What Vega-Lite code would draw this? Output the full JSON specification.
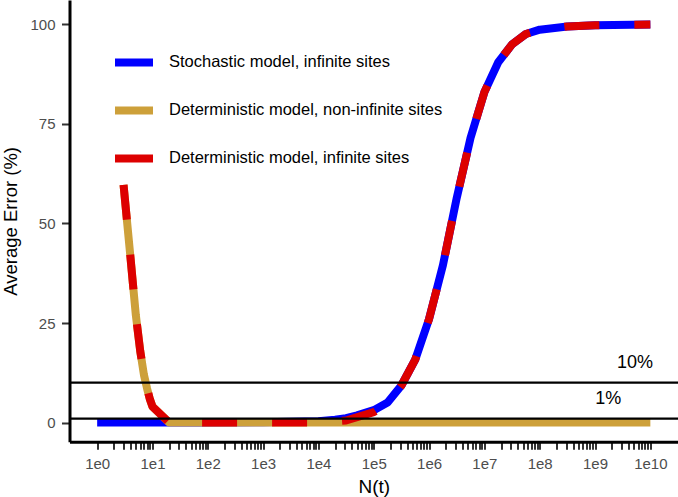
{
  "$schema": "https://vega.github.io/schema/vega-lite/v6.json",
  "width": 608.5,
  "height": 441.7,
  "autosize": {"type": "none"},
  "padding": {"left": 69.5, "top": 0, "right": 0, "bottom": 55.3},
  "background": "white",
  "config": {
    "view": {"stroke": null},
    "font": "Liberation Sans",
    "axis": {"grid": false}
  },
  "layer": [
    {
      "data": {
        "values": [
          {"series": "Stochastic model, infinite sites", "N": 1, "err": 0},
          {"series": "Stochastic model, infinite sites", "N": 2, "err": 0},
          {"series": "Stochastic model, infinite sites", "N": 5, "err": 0},
          {"series": "Stochastic model, infinite sites", "N": 10, "err": 0},
          {"series": "Stochastic model, infinite sites", "N": 20, "err": 0},
          {"series": "Stochastic model, infinite sites", "N": 100, "err": 0},
          {"series": "Stochastic model, infinite sites", "N": 1000, "err": 0.05},
          {"series": "Stochastic model, infinite sites", "N": 10000, "err": 0.3},
          {"series": "Stochastic model, infinite sites", "N": 20000, "err": 0.7},
          {"series": "Stochastic model, infinite sites", "N": 31600, "err": 1.1},
          {"series": "Stochastic model, infinite sites", "N": 50000, "err": 1.8},
          {"series": "Stochastic model, infinite sites", "N": 100000, "err": 3.1},
          {"series": "Stochastic model, infinite sites", "N": 178000, "err": 5.0},
          {"series": "Stochastic model, infinite sites", "N": 316000, "err": 9.3},
          {"series": "Stochastic model, infinite sites", "N": 562000, "err": 15.8},
          {"series": "Stochastic model, infinite sites", "N": 1000000, "err": 26},
          {"series": "Stochastic model, infinite sites", "N": 1780000, "err": 39.5},
          {"series": "Stochastic model, infinite sites", "N": 3160000, "err": 56.4},
          {"series": "Stochastic model, infinite sites", "N": 5620000, "err": 71.5},
          {"series": "Stochastic model, infinite sites", "N": 10000000, "err": 83},
          {"series": "Stochastic model, infinite sites", "N": 17800000, "err": 90.5},
          {"series": "Stochastic model, infinite sites", "N": 31600000, "err": 95},
          {"series": "Stochastic model, infinite sites", "N": 56200000, "err": 97.6},
          {"series": "Stochastic model, infinite sites", "N": 100000000, "err": 98.7},
          {"series": "Stochastic model, infinite sites", "N": 316000000, "err": 99.5},
          {"series": "Stochastic model, infinite sites", "N": 1000000000, "err": 99.8},
          {"series": "Stochastic model, infinite sites", "N": 10000000000, "err": 100},

          {"series": "Deterministic model, non-infinite sites", "N": 3, "err": 59.7},
          {"series": "Deterministic model, non-infinite sites", "N": 4, "err": 41.5},
          {"series": "Deterministic model, non-infinite sites", "N": 5, "err": 27},
          {"series": "Deterministic model, non-infinite sites", "N": 6, "err": 18},
          {"series": "Deterministic model, non-infinite sites", "N": 7, "err": 12},
          {"series": "Deterministic model, non-infinite sites", "N": 8, "err": 8.5},
          {"series": "Deterministic model, non-infinite sites", "N": 9, "err": 5.8},
          {"series": "Deterministic model, non-infinite sites", "N": 10, "err": 4},
          {"series": "Deterministic model, non-infinite sites", "N": 20, "err": 0},
          {"series": "Deterministic model, non-infinite sites", "N": 100, "err": 0},
          {"series": "Deterministic model, non-infinite sites", "N": 1000, "err": 0},
          {"series": "Deterministic model, non-infinite sites", "N": 10000, "err": 0},
          {"series": "Deterministic model, non-infinite sites", "N": 100000, "err": 0},
          {"series": "Deterministic model, non-infinite sites", "N": 1000000, "err": 0},
          {"series": "Deterministic model, non-infinite sites", "N": 10000000, "err": 0},
          {"series": "Deterministic model, non-infinite sites", "N": 100000000, "err": 0},
          {"series": "Deterministic model, non-infinite sites", "N": 1000000000, "err": 0},
          {"series": "Deterministic model, non-infinite sites", "N": 10000000000, "err": 0},

          {"series": "Deterministic model, infinite sites", "N": 3, "err": 59.7},
          {"series": "Deterministic model, infinite sites", "N": 4, "err": 41.5},
          {"series": "Deterministic model, infinite sites", "N": 5, "err": 27},
          {"series": "Deterministic model, infinite sites", "N": 6, "err": 18},
          {"series": "Deterministic model, infinite sites", "N": 7, "err": 12},
          {"series": "Deterministic model, infinite sites", "N": 8, "err": 8.5},
          {"series": "Deterministic model, infinite sites", "N": 9, "err": 5.8},
          {"series": "Deterministic model, infinite sites", "N": 10, "err": 4},
          {"series": "Deterministic model, infinite sites", "N": 20, "err": 0},
          {"series": "Deterministic model, infinite sites", "N": 100, "err": 0},
          {"series": "Deterministic model, infinite sites", "N": 1000, "err": 0},
          {"series": "Deterministic model, infinite sites", "N": 10000, "err": 0},
          {"series": "Deterministic model, infinite sites", "N": 31600, "err": 0.5},
          {"series": "Deterministic model, infinite sites", "N": 100000, "err": 2.6},
          {"series": "Deterministic model, infinite sites", "N": 178000, "err": 4.8},
          {"series": "Deterministic model, infinite sites", "N": 316000, "err": 9.3},
          {"series": "Deterministic model, infinite sites", "N": 562000, "err": 15.8},
          {"series": "Deterministic model, infinite sites", "N": 1000000, "err": 26},
          {"series": "Deterministic model, infinite sites", "N": 1780000, "err": 39.5},
          {"series": "Deterministic model, infinite sites", "N": 3160000, "err": 56.4},
          {"series": "Deterministic model, infinite sites", "N": 5620000, "err": 71.5},
          {"series": "Deterministic model, infinite sites", "N": 10000000, "err": 83},
          {"series": "Deterministic model, infinite sites", "N": 17800000, "err": 90.5},
          {"series": "Deterministic model, infinite sites", "N": 31600000, "err": 95},
          {"series": "Deterministic model, infinite sites", "N": 56200000, "err": 97.6},
          {"series": "Deterministic model, infinite sites", "N": 100000000, "err": 98.7},
          {"series": "Deterministic model, infinite sites", "N": 316000000, "err": 99.5},
          {"series": "Deterministic model, infinite sites", "N": 1000000000, "err": 99.8},
          {"series": "Deterministic model, infinite sites", "N": 10000000000, "err": 100}
        ]
      },
      "encoding": {
        "x": {
          "field": "N", "type": "quantitative",
          "scale": {"type": "log", "domain": [0.316228, 31622776601], "nice": false},
          "axis": {
            "title": "N(t)",
            "titleFontSize": 19, "titleFontWeight": "normal", "titleColor": "black", "titlePadding": 6,
            "values": [1,2,3,4,5,6,7,8,9,10,20,30,40,50,60,70,80,90,100,200,300,400,500,600,700,800,900,1000,2000,3000,4000,5000,6000,7000,8000,9000,10000,20000,30000,40000,50000,60000,70000,80000,90000,100000,200000,300000,400000,500000,600000,700000,800000,900000,1000000,2000000,3000000,4000000,5000000,6000000,7000000,8000000,9000000,10000000,20000000,30000000,40000000,50000000,60000000,70000000,80000000,90000000,100000000,200000000,300000000,400000000,500000000,600000000,700000000,800000000,900000000,1000000000,2000000000,3000000000,4000000000,5000000000,6000000000,7000000000,8000000000,9000000000,10000000000],
            "labelExpr": "abs(log(datum.value)/LN10 - round(log(datum.value)/LN10)) < 0.001 ? '1e' + round(log(datum.value)/LN10) : ''",
            "labelOverlap": false,
            "labelFontSize": 15, "labelColor": "#4D4D4D", "labelPadding": 7,
            "tickSize": 7.5, "tickWidth": 2, "tickColor": "#333333",
            "domainColor": "black", "domainWidth": 3
          }
        },
        "y": {
          "field": "err", "type": "quantitative",
          "scale": {"domain": [-4.82, 106.15], "nice": false, "zero": false},
          "axis": {
            "title": "Average Error (%)",
            "titleFontSize": 18.5, "titleFontWeight": "normal", "titleColor": "black", "titlePadding": 9.5,
            "values": [0, 25, 50, 75, 100],
            "labelFontSize": 15, "labelColor": "#4D4D4D", "labelPadding": 6.5,
            "tickSize": 8, "tickWidth": 2, "tickColor": "#333333",
            "domainColor": "black", "domainWidth": 3
          }
        },
        "color": {
          "field": "series", "type": "nominal",
          "scale": {
            "domain": ["Stochastic model, infinite sites", "Deterministic model, non-infinite sites", "Deterministic model, infinite sites"],
            "range": ["#0000FF", "#CDA03A", "#DD0000"]
          },
          "legend": {
            "title": null,
            "orient": "none", "legendX": 41.5, "legendY": 39.4,
            "symbolType": "stroke", "symbolSize": 1444, "symbolStrokeWidth": 8, "symbolDash": [1, 0],
            "labelFontSize": 16.5, "labelColor": "black", "labelOffset": 12, "labelLimit": 400,
            "rowPadding": 9, "padding": 0
          }
        }
      },
      "layer": [
        {
          "transform": [{"filter": "datum.series === 'Stochastic model, infinite sites'"}],
          "mark": {"type": "line", "strokeWidth": 8, "strokeCap": "butt", "strokeJoin": "round", "clip": true}
        },
        {
          "transform": [{"filter": "datum.series === 'Deterministic model, non-infinite sites'"}],
          "mark": {"type": "line", "strokeWidth": 8, "strokeCap": "butt", "strokeJoin": "round", "clip": true}
        },
        {
          "transform": [{"filter": "datum.series === 'Deterministic model, infinite sites'"}],
          "mark": {"type": "line", "strokeWidth": 8, "strokeCap": "butt", "strokeJoin": "round", "strokeDash": [35, 35], "clip": true}
        }
      ]
    },
    {
      "data": {"values": [{"err": 10}, {"err": 1}]},
      "mark": {"type": "rule", "color": "black", "strokeWidth": 2.2},
      "encoding": {"y": {"field": "err", "type": "quantitative"}}
    },
    {
      "data": {"values": [{"N": 5300000000, "err": 14.9, "label": "10%"}, {"N": 1740000000, "err": 5.9, "label": "1%"}]},
      "mark": {"type": "text", "fontSize": 18, "color": "black", "align": "center", "baseline": "middle"},
      "encoding": {
        "x": {"field": "N", "type": "quantitative"},
        "y": {"field": "err", "type": "quantitative"},
        "text": {"field": "label"}
      }
    }
  ]
}
